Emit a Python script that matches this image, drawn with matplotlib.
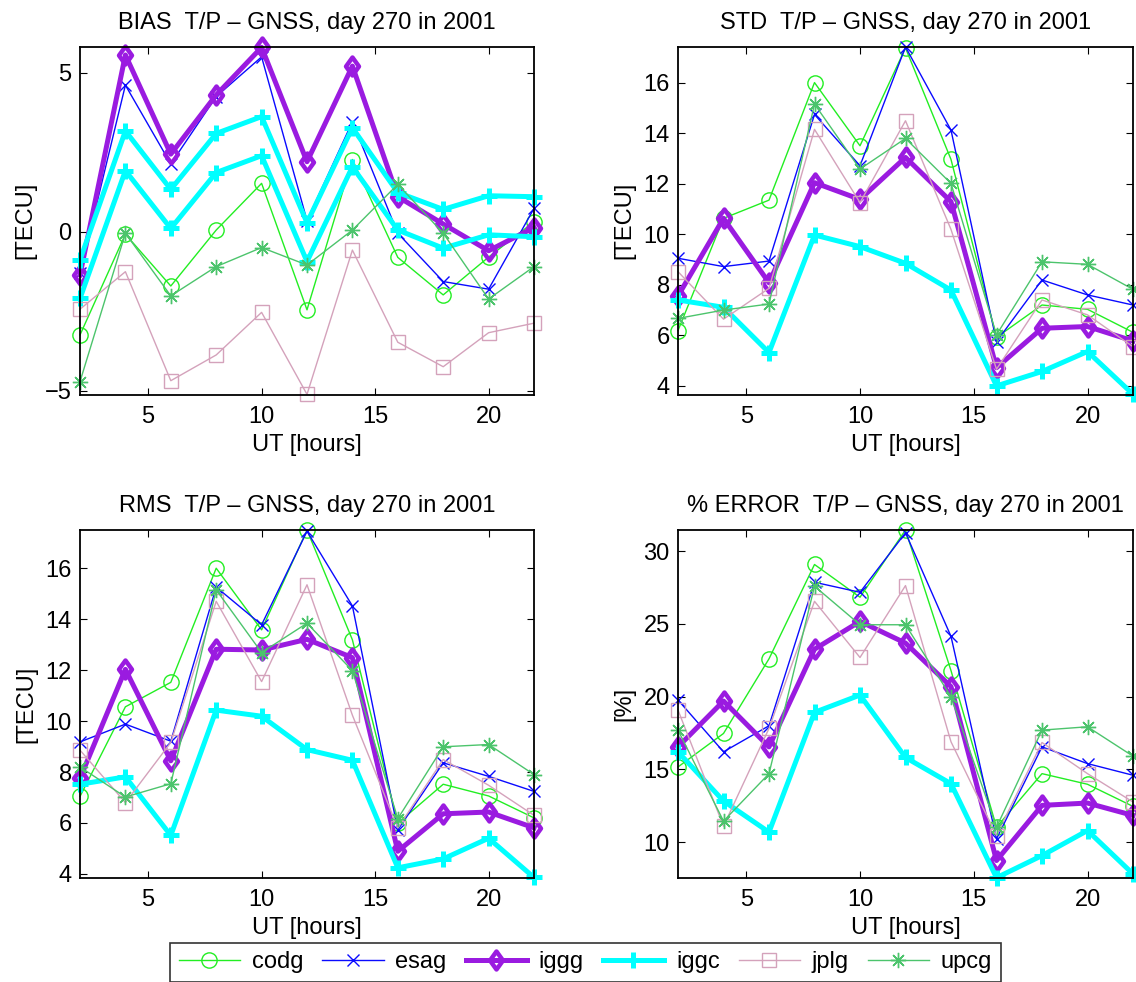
import matplotlib
matplotlib.use("Agg")
import matplotlib.pyplot as plt
from matplotlib.lines import Line2D
from matplotlib.path import Path

plt.rcParams['font.family'] = ['Liberation Sans', 'DejaVu Sans']

hours = [2, 4, 6, 8, 10, 12, 14, 16, 18, 20, 22]
names = ['codg', 'esag', 'iggg', 'iggc', 'jplg', 'upcg']

bias = {
    'codg': [-3.25, -0.08, -1.71, 0.05, 1.52, -2.46, 2.27, -0.81, -1.99, -0.80, 0.31],
    'esag': [-1.30, 4.61, 2.13, 4.25, 5.50, 0.35, 3.46, -0.05, -1.57, -1.81, 0.73],
    'iggg': [-1.36, 5.56, 2.44, 4.30, 5.80, 2.20, 5.21, 1.10, 0.24, -0.60, 0.13],
    'iggc': [-0.89, 3.17, 1.33, 3.09, 3.62, 0.28, 3.27, 1.23, 0.70, 1.13, 1.10],
    'jplg': [-2.44, -1.26, -4.69, -3.88, -2.54, -5.12, -0.58, -3.48, -4.25, -3.18, -2.88],
    'upcg': [-4.72, -0.05, -2.02, -1.10, -0.50, -1.05, 0.05, 1.49, -0.05, -2.12, -1.10],
}
bias_iggc_2 = [-2.10, 1.92, 0.10, 1.86, 2.39, -0.94, 2.04, 0.05, -0.52, -0.10, -0.16]

std = {
    'codg': [6.19, 10.63, 11.35, 16.00, 13.50, 17.37, 12.96, 5.92, 7.20, 7.03, 6.12],
    'esag': [9.05, 8.72, 8.94, 14.74, 12.71, 17.41, 14.12, 5.75, 8.19, 7.60, 7.20],
    'iggg': [7.56, 10.63, 8.08, 12.04, 11.38, 13.04, 11.29, 4.72, 6.28, 6.35, 5.78],
    'iggc': [7.40, 7.11, 5.32, 9.97, 9.51, 8.85, 7.79, 4.00, 4.57, 5.36, 3.67],
    'jplg': [8.52, 6.64, 7.86, 14.15, 11.25, 14.49, 10.19, 4.66, 7.40, 6.81, 5.55],
    'upcg': [6.67, 7.00, 7.24, 15.15, 12.58, 13.79, 12.01, 6.02, 8.91, 8.81, 7.82],
}

rms = {
    'codg': [7.04, 10.56, 11.52, 16.00, 13.58, 17.50, 13.19, 5.99, 7.52, 7.06, 6.20],
    'esag': [9.18, 9.88, 9.21, 15.26, 13.78, 17.45, 14.52, 5.73, 8.36, 7.83, 7.24],
    'iggg': [7.75, 12.03, 8.44, 12.82, 12.79, 13.21, 12.49, 4.89, 6.36, 6.43, 5.81],
    'iggc': [7.52, 7.81, 5.51, 10.43, 10.19, 8.88, 8.46, 4.24, 4.59, 5.40, 3.86],
    'jplg': [8.86, 6.80, 9.16, 14.70, 11.55, 15.35, 10.23, 5.80, 8.49, 7.48, 6.30],
    'upcg': [8.20, 7.02, 7.54, 15.15, 12.69, 13.84, 11.98, 6.17, 8.99, 9.08, 7.90],
}

perr = {
    'codg': [15.17, 17.47, 22.60, 29.08, 26.83, 31.45, 21.79, 11.03, 14.71, 13.98, 12.46],
    'esag': [19.77, 16.21, 18.00, 27.86, 27.17, 31.26, 24.14, 10.23, 16.55, 15.40, 14.60],
    'iggg': [16.55, 19.70, 16.55, 23.26, 25.17, 23.68, 20.69, 8.74, 12.53, 12.69, 11.84],
    'iggc': [16.21, 12.83, 10.69, 18.92, 20.11, 15.82, 14.02, 7.56, 9.08, 10.80, 7.82],
    'jplg': [19.08, 11.10, 17.82, 26.55, 22.69, 27.63, 16.90, 10.46, 16.85, 14.71, 12.76],
    'upcg': [17.70, 11.45, 14.71, 27.59, 24.94, 24.94, 20.00, 11.03, 17.70, 17.93, 15.91],
}

diamond = Path([(0, 1), (0.72, 0), (0, -1), (-0.72, 0), (0, 1)],
               [Path.MOVETO, Path.LINETO, Path.LINETO, Path.LINETO, Path.CLOSEPOLY])

styles = {
    'codg': dict(color='#22ee22', lw=1.0, marker='o', ms=11, mfc='none', mew=1.0),
    'esag': dict(color='#0a0aff', lw=1.0, marker='x', ms=8, mew=1.0),
    'iggg': dict(color='#9a1be0', lw=3.6, marker=diamond, ms=13, mfc='none', mew=3.2),
    'iggc': dict(color='#00ffff', lw=3.6, marker='+', ms=11, mew=3.6),
    'jplg': dict(color='#d4a2bb', lw=1.0, marker='s', ms=10, mfc='none', mew=1.0),
    'upcg': dict(color='#4cc46c', lw=1.0, marker=(8, 2, 0), ms=11, mew=1.0),
}

FS = 17
W, H = 1136, 982
fig = plt.figure(figsize=(W / 100, H / 100), dpi=100)

def ax_rect(l, r, t, b):
    return [l / W, 1 - b / H, (r - l) / W, (b - t) / H]

panels = [
    (ax_rect(80, 534, 46.7, 395), bias, 'BIAS  T/P \u2013 GNSS, day 270 in 2001', '[TECU]', (-5.14, 5.82), [-5, 0, 5]),
    (ax_rect(678, 1133, 46.7, 395), std, 'STD  T/P \u2013 GNSS, day 270 in 2001', '[TECU]', (3.64, 17.42), [4, 6, 8, 10, 12, 14, 16]),
    (ax_rect(80, 534, 530, 878), rms, 'RMS  T/P \u2013 GNSS, day 270 in 2001', '[TECU]', (3.84, 17.5), [4, 6, 8, 10, 12, 14, 16]),
    (ax_rect(678, 1133, 530, 878), perr, '% ERROR  T/P \u2013 GNSS, day 270 in 2001', '[%]', (7.54, 31.45), [10, 15, 20, 25, 30]),
]

for i, (rect, data, title, ylab, ylim, yticks) in enumerate(panels):
    ax = fig.add_axes(rect)
    for n in names:
        ax.plot(hours, data[n], clip_on=False, **styles[n])
        if i == 0 and n == 'iggc':
            ax.plot(hours, bias_iggc_2, clip_on=False, **styles[n])
    ax.set_xlim(2, 22)
    ax.set_ylim(*ylim)
    ax.set_xticks([5, 10, 15, 20])
    ax.set_yticks(yticks)
    ax.set_yticklabels([str(v).replace('-', '\u2212') for v in yticks])
    ax.tick_params(direction='in', top=True, right=True, length=5, width=0.8, labelsize=FS)
    ax.tick_params(axis='x', pad=8)
    ax.tick_params(axis='y', pad=6)
    for s in ax.spines.values():
        s.set_linewidth(1.3)
    ax.set_title(title, fontsize=FS, pad=13)
    ax.set_xlabel('UT [hours]', fontsize=FS, labelpad=4)
    ax.set_ylabel(ylab, fontsize=FS, labelpad=6)

handles = [Line2D([], [], **styles[n]) for n in names]
leg = fig.legend(handles, names, loc='upper center', bbox_to_anchor=(585.5 / W, 1 - 943 / H),
                 ncol=6, fontsize=FS, frameon=True, fancybox=False, edgecolor='black',
                 handlelength=2.6, handletextpad=0.5, columnspacing=0.8, borderpad=0.35,
                 numpoints=1, borderaxespad=0)
leg.get_frame().set_linewidth(1.2)

fig.savefig('out.png', dpi=100)
